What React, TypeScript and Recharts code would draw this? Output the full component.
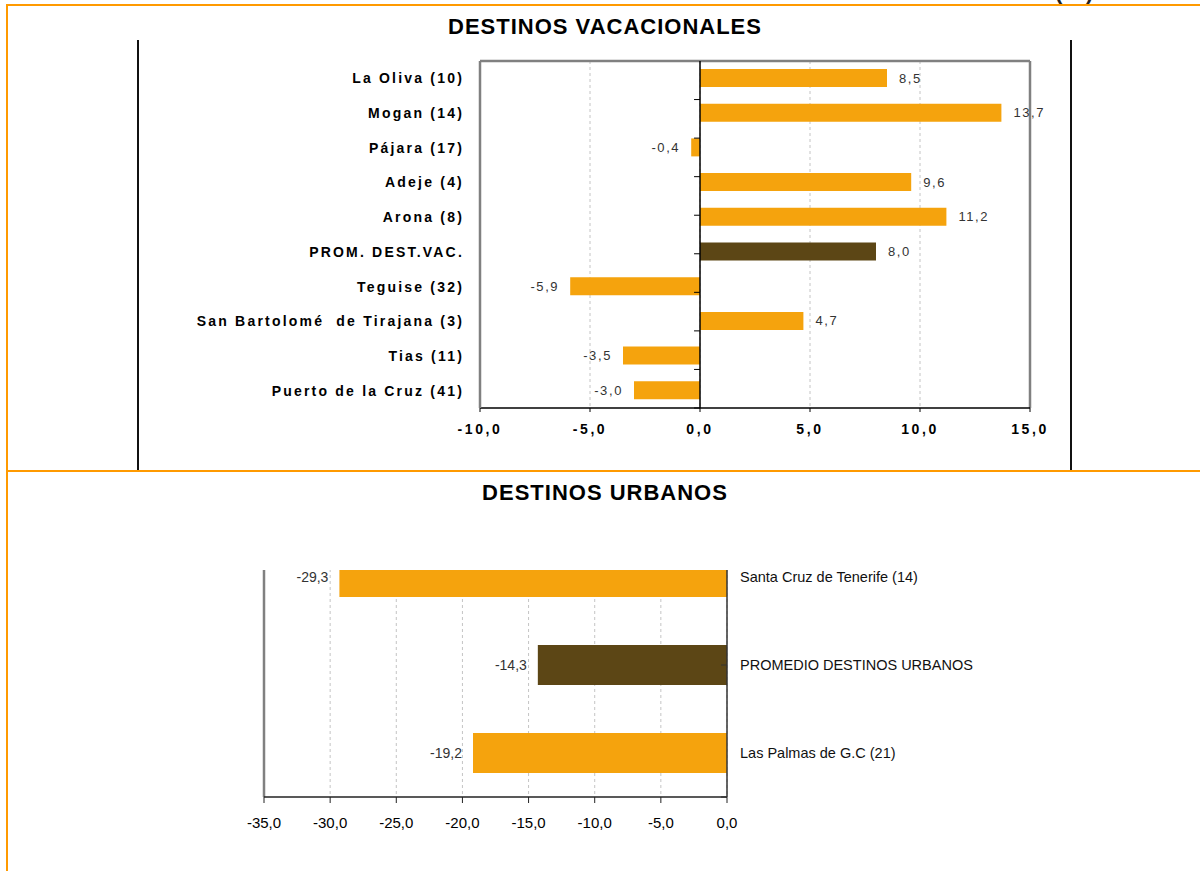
import React from "react";
import {
  BarChart,
  Bar,
  XAxis,
  YAxis,
  CartesianGrid,
  ReferenceLine,
  LabelList,
  Cell,
} from "recharts";

// vacation destinations
const vacCategories = [
  "La Oliva (10)",
  "Mogan (14)",
  "Pájara (17)",
  "Adeje (4)",
  "Arona (8)",
  "PROM. DEST.VAC.",
  "Teguise (32)",
  "San Bartolomé  de Tirajana (3)",
  "Tias (11)",
  "Puerto de la Cruz (41)",
];
const vacValues = [8.5, 13.7, -0.4, 9.6, 11.2, 8.0, -5.9, 4.7, -3.5, -3.0];
const vacAverage = "PROM. DEST.VAC.";
const vacTicks = [-10, -5, 0, 5, 10, 15];

// urban destinations
const urbCategories = [
  "Santa Cruz de Tenerife (14)",
  "PROMEDIO DESTINOS URBANOS",
  "Las Palmas de G.C (21)",
];
const urbValues = [-29.3, -14.3, -19.2];
const urbAverage = "PROMEDIO DESTINOS URBANOS";
const urbTicks = [-35, -30, -25, -20, -15, -10, -5, 0];

const ORANGE = "#F5A30D";
const BROWN = "#5C4615";
const FRAME = "#FF9A00";
const FONT = "Arial, 'Liberation Sans', sans-serif";

const vacData = vacCategories.map((name, i) => ({ name, value: vacValues[i] }));
const urbData = urbCategories.map((name, i) => ({ name, value: urbValues[i] }));
const vacBounds = vacCategories.slice(1).map((_, i) => i + 1);
const urbBounds = urbCategories.slice(1).map((_, i) => i + 1);

const fmt = (v: number) => v.toFixed(1).replace(".", ",");

function makeValueLabel(fontSize: number, spacing: number) {
  return (props: any) => {
    const x = Number(props.x);
    const w = Number(props.width);
    const y = Number(props.y);
    const h = Number(props.height);
    const v = Number(props.value);
    const left = Math.min(x, x + w);
    const right = Math.max(x, x + w);
    const pos = v >= 0;
    return (
      <text
        x={pos ? right + 12 : left - 11}
        y={y + h / 2}
        textAnchor={pos ? "start" : "end"}
        dominantBaseline="central"
        fontFamily={FONT}
        fontSize={fontSize}
        fill="#333"
        style={{ letterSpacing: spacing }}
      >
        {fmt(v)}
      </text>
    );
  };
}

export default function App() {
  return (
    <div
      style={{
        position: "absolute",
        left: 0,
        top: 0,
        width: 1200,
        height: 871,
        overflow: "hidden",
        background: "#fff",
        fontFamily: FONT,
      }}
    >
      {/* cut-off text at the very top, as in the source */}
      <div
        style={{
          position: "absolute",
          left: 1055,
          top: -19,
          fontSize: 22,
          lineHeight: "22px",
          fontWeight: "bold",
          letterSpacing: 2,
          color: "#222",
        }}
      >
        (%)
      </div>

      {/* frame lines */}
      <div style={{ position: "absolute", left: 6, top: 4, width: 1194, height: 2, background: FRAME }} />
      <div style={{ position: "absolute", left: 6, top: 4, width: 2, height: 867, background: FRAME }} />
      <div style={{ position: "absolute", left: 6, top: 470, width: 1194, height: 2, background: FRAME }} />
      <div style={{ position: "absolute", left: 137, top: 40, width: 1.5, height: 430, background: "#111" }} />
      <div style={{ position: "absolute", left: 1070, top: 40, width: 1.5, height: 430, background: "#111" }} />

      <div
        style={{
          position: "absolute",
          left: 0,
          width: 1200,
          top: 14,
          textAlign: "center",
          fontSize: 22,
          fontWeight: "bold",
          letterSpacing: 1,
          color: "#000",
          paddingLeft: 10,
          boxSizing: "border-box",
        }}
      >
        DESTINOS VACACIONALES
      </div>

      <div style={{ position: "absolute", left: 0, top: 0 }}>
        <BarChart
          width={1200}
          height={460}
          layout="vertical"
          data={vacData}
          margin={{ top: 61, right: 170, left: 280, bottom: 22 }}
          barSize={18}
        >
          <CartesianGrid horizontal={false} strokeDasharray="3 3" stroke="#c4c4c4" />
          <XAxis
            type="number"
            domain={[-10, 15]}
            ticks={vacTicks}
            interval={0}
            height={30}
            axisLine={{ stroke: "#000", strokeWidth: 1.5 }}
            tickLine={{ stroke: "#000" }}
            tickSize={4}
            tickMargin={17}
            tick={(p: any) => (
              <text
                x={p.x}
                y={p.y}
                textAnchor="middle"
                dominantBaseline="central"
                fontFamily={FONT}
                fontSize={14}
                fontWeight="bold"
                fill="#000"
                style={{ letterSpacing: 2.6 }}
              >
                {fmt(p.payload.value)}
              </text>
            )}
          />
          <YAxis
            type="category"
            dataKey="name"
            width={200}
            interval={0}
            axisLine={{ stroke: "#808080", strokeWidth: 2.5 }}
            tickLine={false}
            tickSize={0}
            tickMargin={16}
            tick={(p: any) => (
              <text
                x={p.x}
                y={p.y}
                textAnchor="end"
                dominantBaseline="central"
                fontFamily={FONT}
                fontSize={14}
                fontWeight="bold"
                fill="#000"
                style={{ letterSpacing: 2.2, whiteSpace: "pre" }}
              >
                {p.payload.value}
              </text>
            )}
          />
          <YAxis yAxisId="n" type="number" domain={[0, vacCategories.length]} hide />
          <ReferenceLine x={15} stroke="#808080" strokeWidth={2.5} />
          <ReferenceLine yAxisId="n" y={0} stroke="#808080" strokeWidth={2.5} />
          <Bar dataKey="value" isAnimationActive={false}>
            {vacData.map((d) => (
              <Cell key={d.name} fill={d.name === vacAverage ? BROWN : ORANGE} />
            ))}
            <LabelList dataKey="value" content={makeValueLabel(13, 1.6)} />
          </Bar>
          <ReferenceLine x={0} stroke="#000" strokeWidth={1.5} />
          {vacBounds.map((b) => (
            <ReferenceLine
              key={b}
              yAxisId="n"
              segment={[
                { x: -0.27, y: b },
                { x: 0, y: b },
              ]}
              stroke="#000"
            />
          ))}
        </BarChart>
      </div>

      <div
        style={{
          position: "absolute",
          left: 0,
          width: 1200,
          top: 480,
          textAlign: "center",
          fontSize: 22,
          fontWeight: "bold",
          letterSpacing: 1,
          color: "#000",
          paddingLeft: 10,
          boxSizing: "border-box",
        }}
      >
        DESTINOS URBANOS
      </div>

      {/* urban chart, its top is cut off in the source */}
      <div style={{ position: "absolute", left: 0, top: 570, width: 1200, height: 301, overflow: "hidden" }}>
        <div style={{ position: "absolute", left: 0, top: -37 }}>
          <BarChart
            width={1200}
            height={320}
            layout="vertical"
            data={urbData}
            margin={{ top: 0, right: 223, left: 264, bottom: 26 }}
            barSize={40}
          >
            <CartesianGrid horizontal={false} strokeDasharray="3 3" stroke="#c4c4c4" />
            <XAxis
              type="number"
              domain={[-35, 0]}
              ticks={urbTicks}
              interval={0}
              height={30}
              axisLine={{ stroke: "#222", strokeWidth: 1.5 }}
              tickLine={{ stroke: "#222" }}
              tickSize={6}
              tickMargin={19}
              tick={(p: any) => (
                <text
                  x={p.x}
                  y={p.y}
                  textAnchor="middle"
                  dominantBaseline="central"
                  fontFamily={FONT}
                  fontSize={15}
                  fill="#000"
                >
                  {fmt(p.payload.value)}
                </text>
              )}
            />
            <YAxis
              type="category"
              dataKey="name"
              orientation="right"
              width={250}
              interval={0}
              axisLine={{ stroke: "#333", strokeWidth: 1.5 }}
              tickLine={false}
              tickSize={0}
              tickMargin={13}
              tick={(p: any) => (
                <text
                  x={p.x}
                  y={p.y}
                  textAnchor="start"
                  dominantBaseline="central"
                  fontFamily={FONT}
                  fontSize={14.5}
                  fill="#111"
                >
                  {p.payload.value}
                </text>
              )}
            />
            <YAxis yAxisId="n" type="number" domain={[0, urbCategories.length]} hide />
            <ReferenceLine x={-35} stroke="#808080" strokeWidth={2.5} />
            <Bar dataKey="value" isAnimationActive={false}>
              {urbData.map((d) => (
                <Cell key={d.name} fill={d.name === urbAverage ? BROWN : ORANGE} />
              ))}
              <LabelList dataKey="value" content={makeValueLabel(14, 0)} />
            </Bar>
            {urbBounds.map((b) => (
              <ReferenceLine
                key={b}
                yAxisId="n"
                segment={[
                  { x: -0.45, y: b },
                  { x: 0, y: b },
                ]}
                stroke="#333"
              />
            ))}
          </BarChart>
        </div>
      </div>
    </div>
  );
}
